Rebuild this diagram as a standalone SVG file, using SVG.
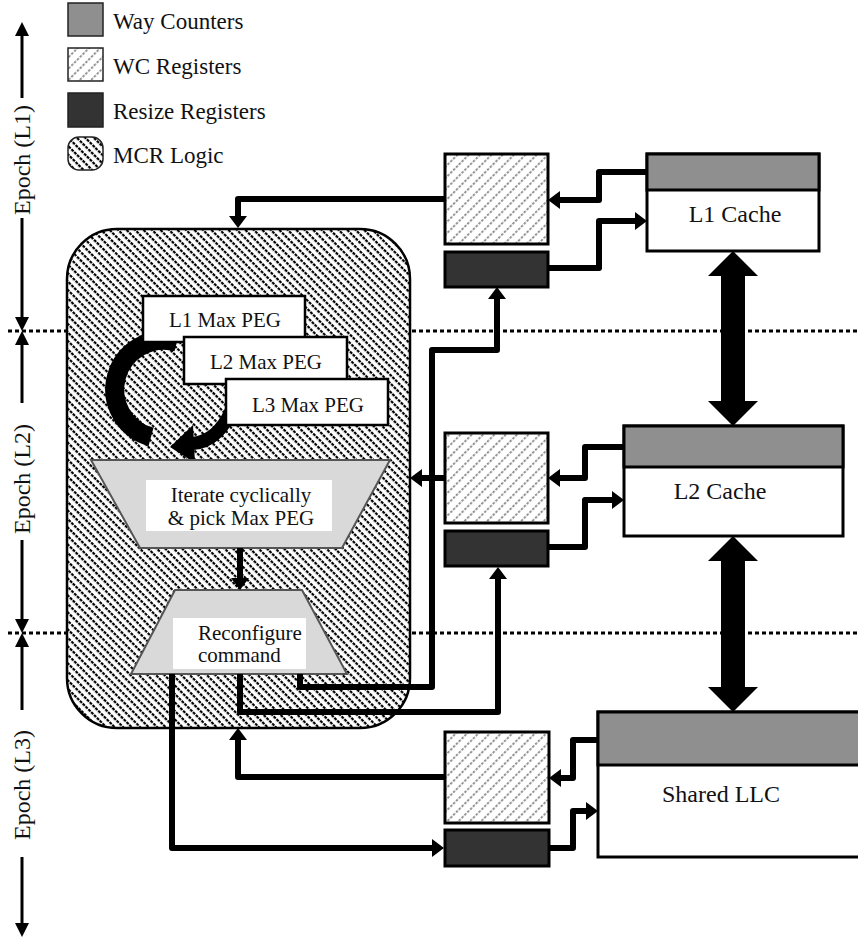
<svg xmlns="http://www.w3.org/2000/svg" width="858" height="940" viewBox="0 0 858 940">
<style>
text{font-family:"Liberation Serif","Times New Roman",serif;fill:#111}
.lg{font-size:23px}
.ep{font-size:24px}
.nd{font-size:21px}
.cc{font-size:24px}
.box{stroke:#000;stroke-width:3}
.c{fill:none;stroke:#000;stroke-width:6;stroke-linejoin:round;marker-end:url(#ah)}
.ea{fill:none;stroke:#000;stroke-width:3}
.dot{fill:none;stroke:#000;stroke-width:3;stroke-dasharray:4 3}
</style>
<defs>
<pattern id="mcr" width="4" height="6" patternUnits="userSpaceOnUse" patternTransform="rotate(45)">
<rect width="4" height="6" fill="#fff"/>
<rect width="3" height="2.2" fill="#000"/>
</pattern>
<pattern id="wc" width="4" height="8" patternUnits="userSpaceOnUse" patternTransform="rotate(-45)">
<rect width="4" height="8" fill="#fff"/>
<rect width="2.5" height="1.8" fill="#888"/>
</pattern>
<marker id="ah" markerUnits="userSpaceOnUse" markerWidth="14" markerHeight="20" viewBox="0 0 14 20" refX="2" refY="9" orient="auto">
<path d="M0,0 L12,9 L0,18 z" fill="#000"/>
</marker>
<marker id="ae" markerUnits="userSpaceOnUse" markerWidth="16" markerHeight="16" viewBox="0 0 16 16" refX="2" refY="7" orient="auto">
<path d="M0,0 L14,7 L0,14 z" fill="#000"/>
</marker>
</defs>

<g id="legend">
<rect x="68" y="3" width="35" height="33" fill="#8f8f8f" stroke="#222" stroke-width="1.5"/>
<text class="lg" x="113" y="29">Way Counters</text>
<rect x="68" y="48" width="35" height="33" fill="url(#wc)" stroke="#222" stroke-width="1.5"/>
<text class="lg" x="113" y="74">WC Registers</text>
<rect x="68" y="93" width="35" height="34" fill="#333" stroke="#222" stroke-width="1.5"/>
<text class="lg" x="113" y="119">Resize Registers</text>
<rect x="68" y="137" width="35" height="33" rx="11" fill="url(#mcr)" stroke="#222" stroke-width="1.5"/>
<text class="lg" x="113" y="163">MCR Logic</text>
</g>

<g id="epochs">
<line class="dot" x1="8" y1="331" x2="67" y2="331"/>
<line class="dot" x1="412" y1="331" x2="858" y2="331"/>
<line class="dot" x1="8" y1="633" x2="67" y2="633"/>
<line class="dot" x1="412" y1="633" x2="858" y2="633"/>
<path class="ea" d="M22,98 V34" marker-end="url(#ae)"/>
<text class="ep" transform="translate(30,160) rotate(-90)" text-anchor="middle">Epoch (L1)</text>
<path class="ea" d="M22,218 V319" marker-end="url(#ae)"/>
<path class="ea" d="M22,403 V343" marker-end="url(#ae)"/>
<text class="ep" transform="translate(30,479) rotate(-90)" text-anchor="middle">Epoch (L2)</text>
<path class="ea" d="M22,540 V621" marker-end="url(#ae)"/>
<path class="ea" d="M22,710 V645" marker-end="url(#ae)"/>
<text class="ep" transform="translate(30,785) rotate(-90)" text-anchor="middle">Epoch (L3)</text>
<path class="ea" d="M22,857 V925" marker-end="url(#ae)"/>
</g>

<g id="mcr-logic">
<rect x="67" y="229" width="343" height="499" rx="50" fill="url(#mcr)" stroke="#000" stroke-width="2.5"/>
</g>

<g id="peg-loop">
<path d="M177,342 A49,49 0 0 0 151,437" fill="none" stroke="#000" stroke-width="19"/>
</g>

<g id="l1-peg">
<rect x="143" y="296" width="162" height="46" fill="#fff" stroke="#000" stroke-width="2.5"/>
<text class="nd" x="225" y="327" text-anchor="middle">L1 Max PEG</text>
</g>
<g id="l2-peg">
<rect x="184" y="337" width="163" height="47" fill="#fff" stroke="#000" stroke-width="2.5"/>
<text class="nd" x="266" y="369" text-anchor="middle">L2 Max PEG</text>
</g>
<g id="peg-arrow">
<path d="M235,400 Q222,442 190,444" fill="none" stroke="#000" stroke-width="13"/>
<polygon points="170,447 193,425 195,463" fill="#000"/>
</g>
<g id="l3-peg">
<rect x="226" y="379" width="162" height="46" fill="#fff" stroke="#000" stroke-width="2.5"/>
<text class="nd" x="308" y="412" text-anchor="middle">L3 Max PEG</text>
</g>

<g id="iterate">
<polygon points="91,460 390,460 342,548 140,548" fill="#d9d9d9" stroke="#555" stroke-width="2"/>
<rect x="146" y="480" width="186" height="51" fill="#fff"/>
<text class="nd" x="241" y="502" text-anchor="middle">Iterate cyclically</text>
<text class="nd" x="241" y="525" text-anchor="middle">&amp; pick Max PEG</text>
</g>

<g id="reconfigure">
<polygon points="175,590 302,590 347,674 131,674" fill="#d9d9d9" stroke="#555" stroke-width="2"/>
<rect x="173" y="618" width="133" height="51" fill="#fff"/>
<text class="nd" x="198" y="640">Reconfigure</text>
<text class="nd" x="198" y="662">command</text>
</g>

<g id="l1-wc"><rect x="445" y="154" width="103" height="90" fill="url(#wc)" class="box"/></g>
<g id="l1-resize"><rect x="445" y="252" width="103" height="35" fill="#333" class="box"/></g>
<g id="l1-cache">
<rect x="647" y="154" width="172" height="97" fill="#fff" class="box"/>
<rect x="647" y="154" width="172" height="36" fill="#8f8f8f" class="box"/>
<text class="cc" x="735" y="222" text-anchor="middle">L1 Cache</text>
</g>

<g id="l2-wc"><rect x="445" y="433" width="103" height="90" fill="url(#wc)" class="box"/></g>
<g id="l2-resize"><rect x="445" y="531" width="103" height="35" fill="#333" class="box"/></g>
<g id="l2-cache">
<rect x="624" y="426" width="219" height="110" fill="#fff" class="box"/>
<rect x="624" y="426" width="219" height="41" fill="#8f8f8f" class="box"/>
<text class="cc" x="720" y="499" text-anchor="middle">L2 Cache</text>
</g>

<g id="l3-wc"><rect x="445" y="732" width="104" height="91" fill="url(#wc)" class="box"/></g>
<g id="l3-resize"><rect x="445" y="830" width="104" height="36" fill="#333" class="box"/></g>
<g id="llc">
<rect x="598" y="712" width="262" height="145" fill="#fff" class="box"/>
<rect x="598" y="712" width="262" height="53" fill="#8f8f8f" class="box"/>
<text class="cc" x="721" y="802" text-anchor="middle">Shared LLC</text>
</g>

<g id="connectors">
<polygon points="733,251 758,276 745,276 745,401 758,401 733,426 708,401 721,401 721,276 708,276" fill="#000"/>
<polygon points="733,536 758,561 745,561 745,687 758,687 733,712 708,687 721,687 721,561 708,561" fill="#000"/>
<path class="c" d="M647,172 H599 V200 H558"/>
<path class="c" d="M548,268 H599 V221 H637"/>
<path class="c" d="M445,199 H238 V218"/>
<path class="c" d="M300,674 V687 H432 V350 H497 V297"/>
<path class="c" d="M240,674 V712 H498 V577"/>
<path class="c" d="M624,447 H585 V478 H558"/>
<path class="c" d="M548,547 H585 V500 H614"/>
<path class="c" d="M445,478 H420"/>
<path class="c" d="M598,740 H573 V778 H559"/>
<path class="c" d="M549,848 H573 V811 H588"/>
<path class="c" d="M445,777 H238 V738"/>
<path class="c" d="M172,674 V848 H434"/>
<path class="c" d="M240,548 V580"/>
</g>
</svg>
